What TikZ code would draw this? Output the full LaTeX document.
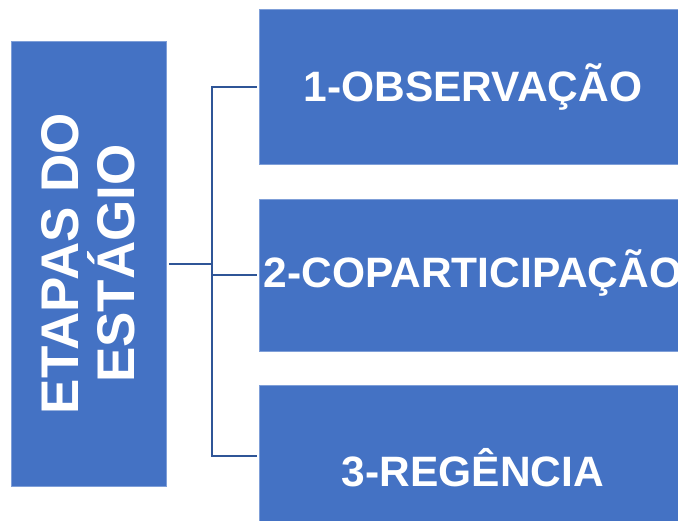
\documentclass[tikz,border=0pt]{standalone}
\usepackage{fontspec}
\setmainfont{Liberation Sans}
\definecolor{azul}{HTML}{4472C4}
\definecolor{azulclaro}{HTML}{7F9FD8}
\definecolor{azulescuro}{HTML}{2F5597}
\begin{document}
\begin{tikzpicture}[x=1pt, y=-1pt]
        \tikzstyle{caixa}=[fill=azul, draw=azulclaro, line width=0.5pt, text=white, inner sep=0];
        \tikzstyle{etapa}=[caixa, minimum width=428pt, text height=30pt, text depth=0pt, font=\fontsize{42.5}{46}\selectfont\bfseries];
        \tikzstyle{ligacao}=[draw=azulescuro, line width=2pt];

        \useasboundingbox (0,0) rectangle (678,520);

        \node[caixa, rotate=90, minimum width=445pt, minimum height=155pt, align=center,
              font=\fontsize{53}{56}\selectfont\bfseries] (etapas) at (88.5,263.5) {ETAPAS DO\\ESTÁGIO};

        \node[etapa, minimum height=155pt] (obs) at (473,86.5) {1-OBSERVAÇÃO};
        \node[etapa, minimum height=152pt, text height=24pt] (copart) at (473,275) {2-COPARTICIPAÇÃO};
        \node[etapa, minimum height=142pt, text height=60pt] (regencia) at (473,456) {3-REGÊNCIA};

        \coordinate (juncao) at (212,0);
        \draw[ligacao] ([xshift=-2pt]obs.west) -- (obs.west -| juncao) -- (regencia.west -| juncao) -- ([xshift=-2pt]regencia.west);
        \draw[ligacao] ([xshift=3pt,yshift=-0.5pt]etapas.south) -- ([yshift=-0.5pt]etapas.south -| juncao);
        \draw[ligacao] (copart.west -| juncao) -- ([xshift=-2pt]copart.west);
    \end{tikzpicture}
\end{document}
